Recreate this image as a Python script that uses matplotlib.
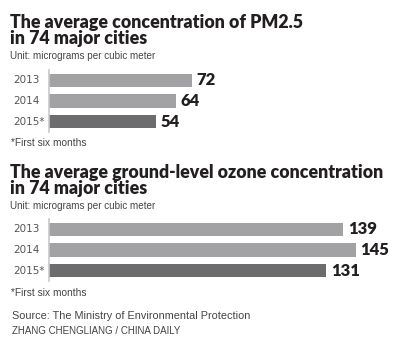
import matplotlib
matplotlib.use('Agg')
import matplotlib.pyplot as plt
import matplotlib.transforms as mtransforms

# data
years = ['2013', '2014', '2015*']
pm25 = [72, 64, 54]
ozone = [139, 145, 131]

W, H = 408, 341
bar_colors = ['#a2a2a4', '#a2a2a4', '#6c6c6f']
title_font = 'Lato'
small_font = 'Liberation Sans'


def px(x, y):
    return x / W, 1 - y / H


fig = plt.figure(figsize=(W / 100, H / 100), dpi=100)
fig.patch.set_facecolor('white')


def panel(top, bottom, values, xmax):
    ax = fig.add_axes([49 / W, 1 - bottom / H, 351 / W, (bottom - top) / H])
    ax.barh(range(len(values)), values, height=0.63, color=bar_colors)
    ax.set_ylim(len(values) - 0.5, -0.5)
    ax.set_xlim(0, xmax)
    for s in ['top', 'right', 'bottom']:
        ax.spines[s].set_visible(False)
    ax.spines['left'].set_color('#c8c8c8')
    ax.spines['left'].set_linewidth(1.2)
    ax.set_xticks([])
    ax.set_yticks([])
    ax.patch.set_alpha(0)
    for i, v in enumerate(values):
        ax.annotate(str(v), (v, i), xytext=(3.5, 0), textcoords='offset points',
                    va='center', ha='left', fontsize=12, fontweight='heavy',
                    color='#231f20', family=title_font)
    trans = mtransforms.blended_transform_factory(fig.transFigure, ax.transData)
    for i, y in enumerate(years):
        ax.text(13 / W, i, y, transform=trans, va='center', ha='left',
                fontsize=7.5, color='#555555', family='DejaVu Sans')
    return ax


def title(lines, y1, y2, yunit):
    fig.text(*px(10, y1), lines[0], fontsize=12.8, fontweight='heavy',
             family=title_font, color='#231f20', va='baseline')
    fig.text(*px(10, y2), lines[1], fontsize=12.8, fontweight='heavy',
             family=title_font, color='#231f20', va='baseline')
    fig.text(*px(10, yunit), 'Unit: micrograms per cubic meter', fontsize=7.1,
             family=small_font, color='#444444', va='baseline')


title(['The average concentration of PM2.5', 'in 74 major cities'], 28, 44, 59)
panel(70, 132, pm25, 177)
fig.text(*px(11, 146), '*First six months', fontsize=7.3, family=small_font,
         color='#444444', va='baseline')

title(['The average ground-level ozone concentration', 'in 74 major cities'], 178, 194, 209)
panel(219, 281, ozone, 166)
fig.text(*px(11, 296), '*First six months', fontsize=7.3, family=small_font,
         color='#444444', va='baseline')

fig.text(*px(12, 319), 'Source: The Ministry of Environmental Protection', fontsize=7.8,
         family=small_font, color='#444444', va='baseline')
fig.text(*px(12, 334), 'ZHANG CHENGLIANG / CHINA DAILY', fontsize=7,
         family=small_font, color='#444444', va='baseline')

fig.savefig('out.png', dpi=100)
